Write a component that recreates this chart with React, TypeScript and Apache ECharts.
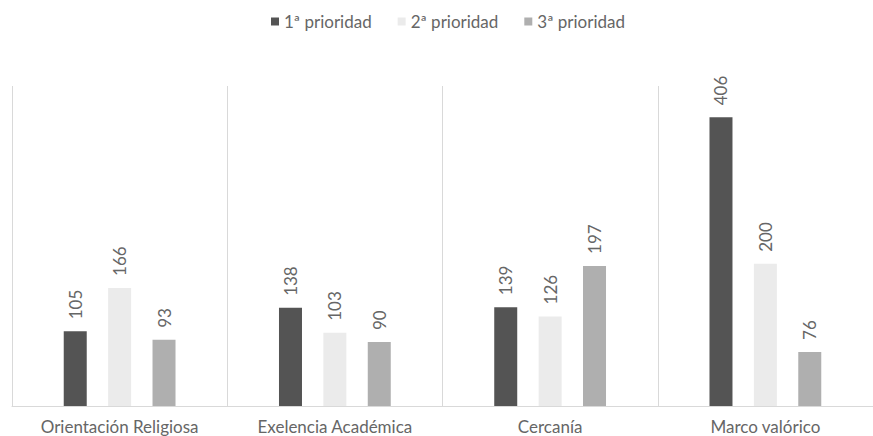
import React, { useEffect, useRef } from "react";
import * as echarts from "echarts";

const categories = ["Orientación Religiosa", "Exelencia Académica", "Cercanía", "Marco valórico"];
const seriesNames = ["1ª prioridad", "2ª prioridad", "3ª prioridad"];
const prioridad1 = [105, 138, 139, 406];
const prioridad2 = [166, 103, 126, 200];
const prioridad3 = [93, 90, 197, 76];
const colors = ["#545454", "#ebebeb", "#afafaf"];

const FONT = "Lato, 'Open Sans', sans-serif";

export default function App() {
  const ref = useRef<HTMLDivElement>(null);
  useEffect(() => {
    document.body.style.margin = "0";
    const chart = echarts.init(ref.current!, null, { renderer: "svg" });
    const data = [prioridad1, prioridad2, prioridad3];
    chart.setOption({
      animation: false,
      backgroundColor: "#ffffff",
      color: colors,
      legend: {
        top: 8,
        left: 266,
        itemWidth: 8,
        itemHeight: 8,
        itemGap: 26,
        icon: "rect",
        textStyle: { color: "#666666", fontSize: 17, fontFamily: FONT },
        data: seriesNames,
      },
      grid: { left: 12, right: -8, top: 86, bottom: 30, containLabel: false },
      xAxis: {
        type: "category",
        data: categories,
        axisLine: { lineStyle: { color: "#d9d9d9" } },
        axisTick: { show: false },
        splitLine: { show: true, lineStyle: { color: "#d9d9d9" } },
        axisLabel: { color: "#666666", fontSize: 17, fontFamily: FONT, margin: 12 },
      },
      yAxis: {
        type: "value",
        min: 0,
        max: 450,
        show: false,
        splitLine: { show: false },
      },
      series: seriesNames.map((name, i) => ({
        name,
        type: "bar",
        data: data[i],
        barWidth: 23,
        barGap: "93%",
        itemStyle: { color: colors[i] },
        label: {
          show: true,
          position: "top",
          rotate: 90,
          align: "left",
          verticalAlign: "middle",
          distance: 12,
          color: "#666666",
          fontSize: 17,
          fontFamily: FONT,
        },
      })),
    });
    return () => chart.dispose();
  }, []);
  return <div ref={ref} style={{ width: 873, height: 436 }} />;
}
